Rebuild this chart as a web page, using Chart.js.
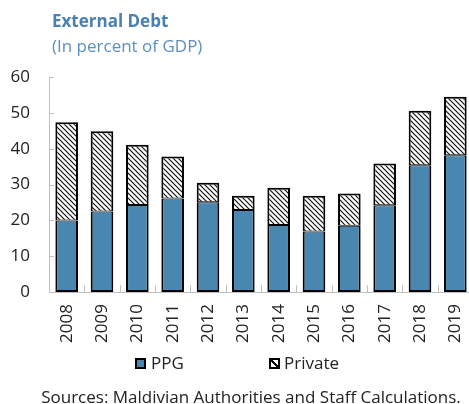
<!DOCTYPE html>
<html>
<head>
<meta charset="utf-8">
<script src="https://cdn.jsdelivr.net/npm/chart.js@4.4.1/dist/chart.umd.min.js"></script>
<style>
  html, body { margin: 0; padding: 0; background: #fff; overflow: hidden; }
  #wrap { position: relative; width: 469px; height: 404px; overflow: hidden; font-family: "Open Sans", sans-serif; }
  #chart { position: absolute; left: 0; top: 0; }
  .txt { position: absolute; line-height: 17px; font-size: 17px; white-space: nowrap; }
  .title { left: 52px; top: 12px; font-weight: bold; color: #4a7fb2; }
  .sub { left: 52px; top: 37px; color: #5b8fc2; }
  .src { left: 0; width: 502px; text-align: center; top: 388px; color: #222; }
  .lg { top: 354px; color: #222; }
  .box { position: absolute; top: 358px; width: 7px; height: 7px; border: 2px solid #000; }
  .b-ppg { left: 135px; background: #4a87b0; }
  .b-priv { left: 269px; background: linear-gradient(45deg, #fff 38%, #000 38% 62%, #fff 62%); }
</style>
</head>
<body>
<div id="wrap">
  <canvas id="chart" width="474" height="404"></canvas>
  <div class="txt title">External Debt</div>
  <div class="txt sub">(In percent of GDP)</div>
  <div class="box b-ppg"></div>
  <div class="txt lg" style="left:151px">PPG</div>
  <div class="box b-priv"></div>
  <div class="txt lg" style="left:284px">Private</div>
  <div class="txt src">Sources: Maldivian Authorities and Staff Calculations.</div>
</div>
<script>
const years = ['2008', '2009', '2010', '2011', '2012', '2013', '2014', '2015', '2016', '2017', '2018', '2019'];
const ppg = [20.0, 22.5, 24.3, 26.1, 25.1, 22.9, 18.7, 16.9, 18.5, 24.2, 35.4, 38.2];
const priv = [27.4, 22.4, 16.8, 11.7, 5.4, 4.0, 10.4, 10.0, 9.0, 11.7, 15.2, 16.3];
const yTicks = [0, 10, 20, 30, 40, 50, 60];

// diagonal hatch for the private-debt bars
function hatch() {
  const c = document.createElement('canvas');
  c.width = 5; c.height = 5;
  const g = c.getContext('2d');
  g.fillStyle = '#fff';
  g.fillRect(0, 0, 5, 5);
  g.strokeStyle = '#111';
  g.lineWidth = 1.2;
  g.beginPath();
  g.moveTo(-1, -1); g.lineTo(6, 6);
  g.moveTo(-1, 4); g.lineTo(1, 6);
  g.moveTo(4, -1); g.lineTo(6, 1);
  g.stroke();
  return g.createPattern(c, 'repeat');
}

// short tick marks pointing into the plot
const innerTicks = {
  id: 'innerTicks',
  beforeDatasetsDraw(chart) {
    const { ctx, chartArea: a, scales: { x, y } } = chart;
    ctx.save();
    ctx.strokeStyle = '#c0c0c0';
    ctx.lineWidth = 1;
    ctx.beginPath();
    for (let i = 1; i < years.length; i++) {
      const px = Math.round((x.getPixelForValue(i - 1) + x.getPixelForValue(i)) / 2) + 0.5;
      ctx.moveTo(px, a.bottom);
      ctx.lineTo(px, a.bottom - 7);
    }
    yTicks.forEach(v => {
      const py = Math.round(y.getPixelForValue(v)) + 0.5;
      ctx.moveTo(a.left, py);
      ctx.lineTo(a.left + 5, py);
    });
    ctx.stroke();
    ctx.restore();
  }
};

new Chart(document.getElementById('chart'), {
  type: 'bar',
  data: {
    labels: years,
    datasets: [{
      label: 'PPG',
      data: ppg,
      backgroundColor: '#4a87b0',
      borderColor: '#000',
      borderWidth: { top: 1, left: 2, right: 2, bottom: 2 },
      borderSkipped: false,
      barPercentage: 0.64,
      categoryPercentage: 1
    }, {
      label: 'Private',
      data: priv,
      backgroundColor: hatch(),
      borderColor: '#000',
      borderWidth: { top: 2, left: 2, right: 2, bottom: 1 },
      borderSkipped: false,
      barPercentage: 0.64,
      categoryPercentage: 1
    }]
  },
  options: {
    responsive: false,
    animation: false,
    layout: { padding: { top: 77, left: 11, right: 1, bottom: 49 } },
    plugins: {
      tooltip: { enabled: false },
      legend: { display: false }
    },
    scales: {
      x: {
        stacked: true,
        grid: { display: false, drawTicks: false },
        border: { color: '#bfbfbf', width: 1 },
        afterFit(scale) {
          scale.paddingLeft = 0;
          scale.paddingRight = 0;
        },
        ticks: {
          color: '#222',
          font: { family: 'Open Sans', size: 17 },
          maxRotation: 90,
          minRotation: 90,
          padding: 12
        }
      },
      y: {
        stacked: true,
        min: 0,
        max: 60,
        grid: { display: false, drawTicks: false },
        border: { color: '#bfbfbf', width: 1 },
        afterBuildTicks(scale) {
          scale.ticks = yTicks.map(v => ({ value: v }));
        },
        afterFit(scale) {
          scale.width = 38;
        },
        ticks: {
          color: '#222',
          font: { family: 'Open Sans', size: 17 },
          padding: 19
        }
      }
    }
  },
  plugins: [innerTicks]
});
</script>
</body>
</html>
